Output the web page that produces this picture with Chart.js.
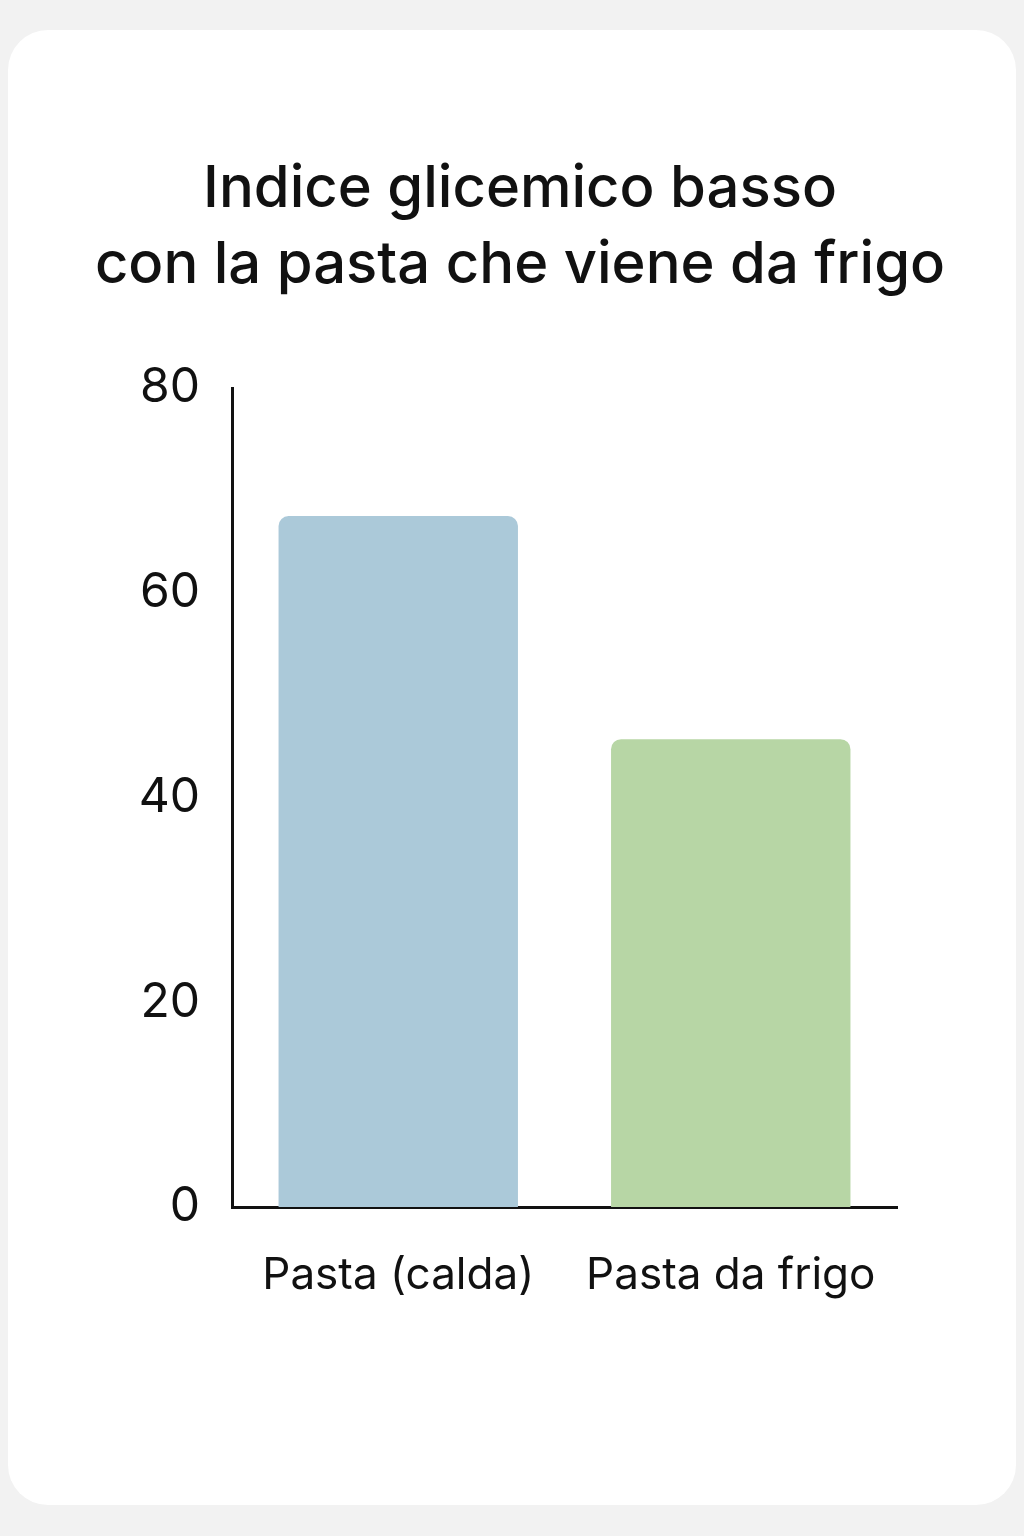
<!DOCTYPE html>
<html><head><meta charset="utf-8">
<script src="https://cdn.jsdelivr.net/npm/chart.js@4"></script>
<style>
html,body{margin:0;padding:0;width:1024px;height:1536px;background:#f2f2f2;overflow:hidden;font-family:Inter,"Open Sans",sans-serif}
#card{position:absolute;left:8px;top:30px;width:1008px;height:1475px;background:#fff;border-radius:40px}
#title{position:absolute;left:0;width:1040px;top:148px;text-align:center;font-size:58px;font-weight:500;line-height:76px;color:#111}
#wrap{position:absolute;left:0;top:0;width:1024px;height:1536px}
</style></head><body>
<div id="card"></div>
<div id="title">Indice glicemico basso<br>con la pasta che viene da frigo</div>
<div id="wrap"><canvas id="c" width="1024" height="1536"></canvas></div>
<script>
const categories=["Pasta (calda)","Pasta da frigo"];
const values=[67.5,45.7];
const colors=["#abc9d9","#b7d6a5"];
const yTicks=[0,20,40,60,80];
new Chart(document.getElementById('c'),{
type:'bar',
data:{labels:categories,datasets:[{data:values,backgroundColor:colors,borderRadius:{topLeft:10,topRight:10},borderSkipped:'bottom',barPercentage:0.72,categoryPercentage:1}]},
options:{responsive:false,animation:false,
layout:{padding:{top:388,right:127,left:0,bottom:0}},
plugins:{legend:{display:false},tooltip:{enabled:false}},
scales:{
x:{grid:{display:false},border:{color:'#111',width:3},ticks:{color:'#111',font:{family:'Inter',size:44},padding:34},afterFit:s=>{s.height=329;}},
y:{min:0,max:80,afterBuildTicks:s=>{s.ticks=yTicks.map(v=>({value:v}));},grid:{display:false},border:{color:'#111',width:3},ticks:{color:'#111',font:{family:'Inter',size:48},padding:24},afterFit:s=>{s.width=232;}}
}}});
</script></body></html>
